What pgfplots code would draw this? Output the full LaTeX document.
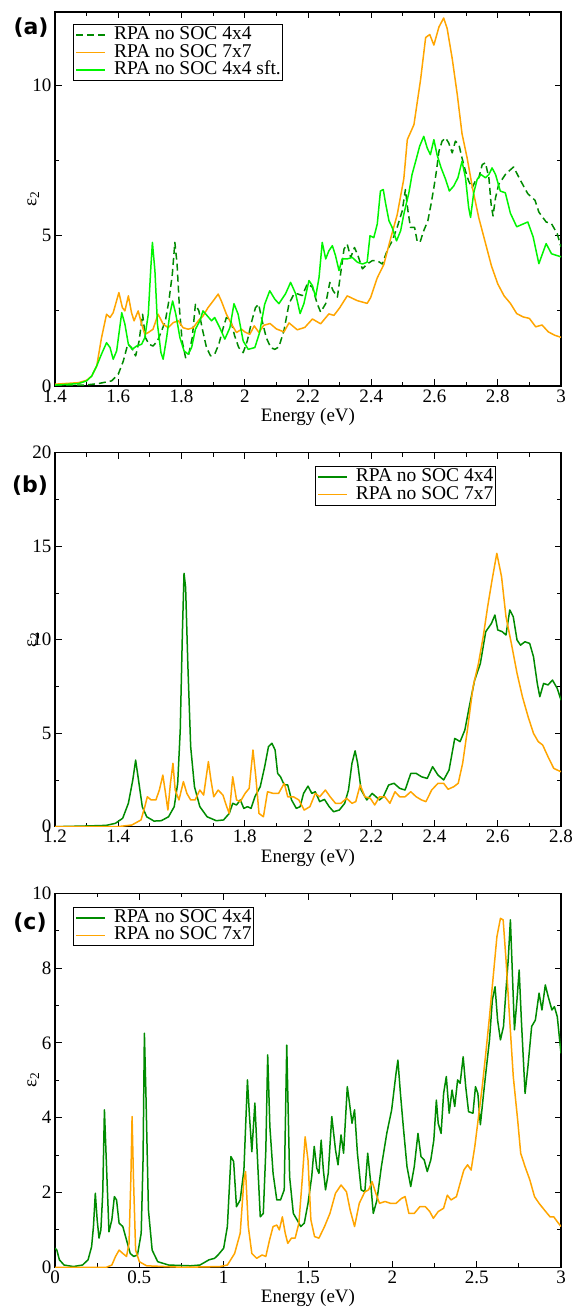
\documentclass[border=0pt]{standalone}
\usepackage{fontspec}
\setmainfont{Liberation Serif}
\newfontfamily\labelfont{DejaVu Sans}
\usepackage{pgfplots}
\pgfplotsset{compat=1.18}
\definecolor{dkgreen}{RGB}{0,139,0}
\definecolor{ltgreen}{RGB}{0,245,0}
\definecolor{orng}{RGB}{255,165,0}
\pgfplotsset{
  myaxis/.style={
    scale only axis, width=506pt, height=374pt,
    axis line style={line width=1.4pt},
    every tick/.style={black, line width=0.8pt},
    major tick length=6.5pt, minor tick length=4pt,
    minor tick num=1,
    /pgf/number format/assume math mode=true,
    tick label style={font=\fontsize{19}{20}\selectfont},
    label style={font=\fontsize{19}{20}\selectfont},
    xlabel={Energy (eV)},
    ylabel={ε\textsubscript{2}},
    xlabel style={at={(axis description cs:0.5,-0.083)}, anchor=center},
    ylabel style={at={(axis description cs:-0.043,0.5)}, anchor=center},
    legend cell align=left,
    legend style={font=\fontsize{19.5}{17}\selectfont, draw=black, line width=1.2pt,
      inner xsep=2pt, inner ysep=2pt, row sep=0.5pt,
      nodes={inner sep=0pt, text height=13pt, text depth=4pt},
      /tikz/every even column/.append style={column sep=0pt},
      /tikz/every odd column/.append style={column sep=8pt}},
    legend image code/.code={\draw[#1, line width=1.5pt] (0pt,0pt) -- (29pt,0pt);},
    every axis plot/.append style={line width=1.5pt, line join=round},
  }
}
\begin{document}
\begin{tikzpicture}
\useasboundingbox (0,0) rectangle (573pt,1309pt);
% ---------------- (a)
\begin{axis}[myaxis, at={(55pt,923pt)}, anchor=south west,
  xmin=1.4, xmax=3, ymin=0, ymax=12.45,
  xtick={1.4,1.6,...,3.01}, ytick={0,5,10},
  legend style={at={(axis description cs:0.0356,0.968)}, anchor=north west}]
\addplot[dkgreen, dash pattern=on 7pt off 4pt] coordinates {
(1.4,0.02)(1.495,0.03)(1.537,0.08)(1.579,0.17)(1.6,0.39)(1.616,0.83)(1.63,1.39)(1.642,1.28)
(1.655,1.0)(1.666,1.5)(1.677,2.39)(1.686,1.61)(1.697,1.39)(1.71,1.33)(1.724,1.5)(1.737,1.83)
(1.749,2.17)(1.76,2.83)(1.771,3.72)(1.779,4.78)(1.786,4.06)(1.794,2.5)(1.802,1.5)(1.813,0.94)
(1.823,1.06)(1.834,1.61)(1.844,2.72)(1.855,2.5)(1.865,1.94)(1.879,1.28)(1.892,1.0)(1.905,1.06)
(1.918,1.39)(1.932,1.94)(1.942,2.28)(1.956,2.17)(1.968,1.67)(1.981,1.28)(1.995,1.11)(2.008,1.5)
(2.021,2.11)(2.034,2.61)(2.044,2.72)(2.055,2.17)(2.068,1.61)(2.082,1.28)(2.095,1.22)(2.108,1.3)
(2.124,1.85)(2.14,2.74)(2.156,3.07)(2.166,3.07)(2.182,3.01)(2.198,3.4)(2.214,3.29)(2.229,2.74)
(2.24,2.46)(2.256,2.74)(2.269,3.45)(2.279,3.18)(2.293,2.96)(2.303,3.73)(2.314,4.56)(2.324,4.72)
(2.335,4.28)(2.347,4.61)(2.358,4.34)(2.372,3.9)(2.387,4.06)(2.403,4.17)(2.419,4.17)(2.435,4.06)
(2.45,4.5)(2.466,4.83)(2.482,5.28)(2.498,5.83)(2.508,6.54)(2.516,5.83)(2.524,5.28)(2.537,5.28)
(2.545,4.83)(2.554,4.78)(2.566,5.17)(2.579,5.5)(2.589,6.05)(2.598,6.6)(2.606,7.15)(2.614,7.81)
(2.624,8.15)(2.635,8.26)(2.645,8.09)(2.656,7.76)(2.666,8.15)(2.677,8.04)(2.687,7.59)(2.698,7.15)
(2.708,6.82)(2.719,6.6)(2.729,6.82)(2.74,6.93)(2.751,7.37)(2.761,7.43)(2.772,6.93)(2.779,6.05)
(2.785,5.66)(2.793,6.27)(2.803,6.71)(2.814,6.88)(2.824,7.04)(2.835,7.15)(2.85,7.29)(2.872,6.84)
(2.895,6.4)(2.918,6.18)(2.93,5.79)(2.953,5.46)(2.97,5.4)(2.988,5.07)(3.0,4.63)};
\addlegendentry{RPA no SOC 4x4}
\addplot[orng] coordinates {
(1.4,0.06)(1.474,0.11)(1.5,0.19)(1.516,0.33)(1.532,0.67)(1.547,1.6)(1.563,2.39)(1.574,2.28)
(1.584,2.44)(1.602,3.11)(1.613,2.61)(1.621,2.5)(1.632,3.0)(1.642,2.44)(1.65,2.17)(1.663,2.5)
(1.674,2.06)(1.684,1.72)(1.695,1.78)(1.71,1.89)(1.726,2.39)(1.742,2.06)(1.758,1.94)(1.774,2.11)
(1.79,2.17)(1.805,1.94)(1.821,1.89)(1.837,1.94)(1.853,2.17)(1.868,2.33)(1.884,2.61)(1.9,2.83)
(1.916,3.06)(1.926,2.83)(1.942,2.39)(1.958,2.06)(1.974,1.78)(1.99,1.89)(2.0,1.8)(2.016,1.72)
(2.03,2.0)(2.045,1.78)(2.06,2.02)(2.08,2.08)(2.1,1.9)(2.124,1.8)(2.14,2.1)(2.166,1.87)(2.19,1.95)
(2.214,2.23)(2.24,2.07)(2.266,2.4)(2.282,2.35)(2.3,2.6)(2.324,3.0)(2.356,2.84)(2.387,2.75)
(2.398,2.94)(2.419,3.6)(2.44,4.05)(2.461,4.9)(2.482,5.7)(2.503,6.9)(2.514,8.2)(2.535,8.7)
(2.556,10.2)(2.572,11.6)(2.585,11.7)(2.598,11.35)(2.614,11.95)(2.629,12.25)(2.64,11.9)
(2.656,10.9)(2.672,9.7)(2.687,8.4)(2.703,7.6)(2.72,6.6)(2.74,5.6)(2.76,4.8)(2.78,4.0)(2.8,3.4)
(2.82,3.0)(2.84,2.75)(2.86,2.41)(2.88,2.3)(2.9,2.25)(2.92,1.97)(2.94,2.03)(2.96,1.8)(2.98,1.69)(3.0,1.62)};
\addlegendentry{RPA no SOC 7x7}
\addplot[ltgreen] coordinates {
(1.4,0.03)(1.474,0.08)(1.5,0.17)(1.516,0.33)(1.532,0.67)(1.547,1.06)(1.563,1.44)(1.574,1.28)
(1.584,0.89)(1.595,1.17)(1.611,2.44)(1.621,2.06)(1.632,1.39)(1.644,1.22)(1.658,1.33)(1.674,1.39)
(1.684,1.61)(1.695,2.39)(1.703,3.94)(1.708,4.78)(1.716,3.83)(1.724,2.06)(1.735,1.11)(1.742,0.89)
(1.753,1.61)(1.763,2.39)(1.772,2.83)(1.782,2.39)(1.795,1.61)(1.808,1.17)(1.821,1.06)(1.832,1.28)
(1.844,1.89)(1.858,2.17)(1.868,2.5)(1.882,2.33)(1.895,2.17)(1.905,2.28)(1.921,1.94)(1.937,1.56)
(1.953,1.94)(1.966,2.74)(1.979,2.39)(1.995,1.5)(2.011,1.22)(2.032,1.28)(2.047,1.78)(2.063,2.72)
(2.079,3.17)(2.095,2.89)(2.108,2.74)(2.129,3.07)(2.145,3.45)(2.161,3.07)(2.175,2.41)(2.187,2.74)
(2.203,3.51)(2.214,3.34)(2.224,2.96)(2.235,3.62)(2.245,4.78)(2.256,4.23)(2.266,4.5)(2.277,4.67)
(2.287,4.34)(2.298,3.84)(2.308,4.23)(2.324,4.23)(2.34,4.28)(2.356,4.12)(2.372,4.06)(2.387,4.12)
(2.396,5.0)(2.408,4.94)(2.419,5.39)(2.429,6.49)(2.438,6.54)(2.445,6.1)(2.456,5.5)(2.466,5.28)
(2.48,4.83)(2.493,5.17)(2.503,5.72)(2.519,6.43)(2.529,7.04)(2.542,7.54)(2.553,7.98)(2.566,8.31)
(2.577,7.92)(2.587,7.7)(2.598,8.2)(2.608,7.7)(2.621,7.26)(2.635,6.88)(2.647,6.49)(2.661,6.66)
(2.674,6.93)(2.687,7.48)(2.698,6.93)(2.708,5.94)(2.714,5.61)(2.724,6.43)(2.735,6.88)(2.747,7.04)
(2.761,6.93)(2.772,7.04)(2.782,7.26)(2.793,7.04)(2.808,6.49)(2.824,6.43)(2.84,5.75)(2.86,5.3)
(2.895,5.46)(2.912,4.96)(2.93,4.07)(2.953,4.74)(2.97,4.4)(3.0,4.3)};
\addlegendentry{RPA no SOC 4x4 sft.}
\end{axis}
% ---------------- (b)
\begin{axis}[myaxis, at={(55pt,482.3pt)}, anchor=south west,
  xmin=1.2, xmax=2.8, ymin=0, ymax=20,
  xtick={1.2,1.4,...,2.81}, ytick={0,5,...,20},
  legend style={at={(axis description cs:0.8715,0.9644)}, anchor=north east}]
\addplot[dkgreen] coordinates {
(1.2,0)(1.304,0.04)(1.362,0.07)(1.391,0.18)(1.414,0.45)(1.432,1.25)(1.446,2.5)(1.455,3.56)
(1.464,2.5)(1.476,1.07)(1.49,0.53)(1.513,0.3)(1.536,0.32)(1.559,0.53)(1.577,1.07)(1.588,2.32)
(1.596,5.17)(1.603,10.5)(1.608,13.55)(1.613,12.8)(1.62,8.7)(1.629,4.28)(1.641,2.14)(1.658,1.07)
(1.681,0.53)(1.71,0.32)(1.733,0.36)(1.751,0.71)(1.762,1.25)(1.774,1.16)(1.786,1.43)(1.797,0.98)
(1.809,1.07)(1.82,0.98)(1.832,1.6)(1.849,2.14)(1.863,3.21)(1.875,4.28)(1.886,4.46)(1.896,4.1)
(1.904,2.85)(1.913,2.67)(1.925,2.23)(1.936,2.23)(1.948,1.43)(1.963,0.98)(1.975,1.07)(1.986,1.78)
(2.0,2.17)(2.012,1.78)(2.023,1.87)(2.037,1.34)(2.052,1.46)(2.067,1.07)(2.081,0.8)(2.099,0.89)
(2.116,1.25)(2.128,1.96)(2.139,3.39)(2.149,4.06)(2.157,3.39)(2.168,1.96)(2.186,1.43)(2.203,1.78)
(2.215,1.6)(2.226,1.43)(2.238,1.6)(2.255,2.23)(2.272,2.32)(2.29,2.05)(2.307,1.96)(2.325,2.85)
(2.342,2.85)(2.359,2.67)(2.377,2.58)(2.394,3.21)(2.411,2.76)(2.429,2.5)(2.446,3.03)(2.464,4.72)
(2.481,4.55)(2.496,5.17)(2.51,6.42)(2.527,7.84)(2.545,8.73)(2.562,10.43)(2.58,10.87)(2.591,11.32)
(2.6,10.52)(2.614,10.43)(2.626,10.25)(2.638,11.59)(2.649,11.23)(2.661,9.98)(2.672,9.71)
(2.686,9.89)(2.701,9.8)(2.713,9.09)(2.725,7.66)(2.733,6.95)(2.745,7.66)(2.759,7.58)(2.773,7.84)
(2.788,7.4)(2.8,6.77)};
\addlegendentry{RPA no SOC 4x4}
\addplot[orng] coordinates {
(1.2,0)(1.397,0)(1.443,0.09)(1.472,0.36)(1.484,1.07)(1.492,1.6)(1.504,1.43)(1.519,1.43)
(1.53,1.96)(1.541,2.76)(1.548,1.96)(1.557,0.89)(1.565,2.32)(1.573,3.39)(1.58,1.96)(1.592,1.43)
(1.606,2.41)(1.617,1.78)(1.629,1.43)(1.643,1.43)(1.658,1.96)(1.67,1.69)(1.685,3.48)(1.693,2.5)
(1.702,1.6)(1.716,1.96)(1.731,1.69)(1.743,1.07)(1.751,0.71)(1.762,2.67)(1.774,1.43)(1.786,1.34)
(1.801,1.78)(1.814,2.05)(1.826,4.1)(1.835,2.67)(1.845,0.71)(1.859,0.53)(1.872,1.87)(1.89,1.78)
(1.907,1.78)(1.925,2.32)(1.936,1.6)(1.954,1.6)(1.971,1.43)(1.988,0.89)(2.006,1.07)(2.023,1.78)
(2.037,1.6)(2.055,1.96)(2.07,1.6)(2.087,1.25)(2.104,1.25)(2.122,1.52)(2.139,1.25)(2.151,1.34)
(2.165,2.23)(2.18,1.6)(2.197,1.52)(2.211,1.16)(2.226,1.6)(2.243,1.6)(2.259,1.25)(2.275,1.87)
(2.29,1.6)(2.307,1.6)(2.325,1.87)(2.342,1.6)(2.359,1.43)(2.373,1.34)(2.391,1.96)(2.411,2.32)
(2.429,2.32)(2.443,2.0)(2.461,2.14)(2.475,2.32)(2.489,3.39)(2.504,5.17)(2.522,7.49)(2.539,8.73)
(2.554,10.16)(2.568,11.76)(2.582,13.19)(2.597,14.62)(2.612,13.37)(2.626,11.23)(2.643,9.8)
(2.661,8.2)(2.678,6.95)(2.696,5.88)(2.713,4.99)(2.728,4.55)(2.742,4.37)(2.759,3.74)(2.777,3.12)
(2.788,3.03)(2.8,2.94)};
\addlegendentry{RPA no SOC 7x7}
\end{axis}
% ---------------- (c)
\begin{axis}[myaxis, at={(55pt,41.7pt)}, anchor=south west,
  xmin=0, xmax=3, ymin=0, ymax=10,
  xtick={0,0.5,...,3.01}, ytick={0,2,...,10},
  legend style={at={(axis description cs:0.0356,0.9642)}, anchor=north west}]
\addplot[dkgreen] coordinates {
(0,0.51)(0.011,0.46)(0.026,0.2)(0.054,0.06)(0.109,0.02)(0.163,0.06)(0.196,0.2)(0.217,0.55)
(0.228,1.09)(0.239,1.98)(0.25,1.27)(0.261,0.78)(0.272,1.0)(0.283,1.98)(0.293,4.21)(0.304,2.87)
(0.32,0.95)(0.337,1.27)(0.352,1.89)(0.365,1.8)(0.38,1.18)(0.402,1.09)(0.424,0.73)(0.446,0.37)
(0.467,0.29)(0.489,0.33)(0.511,0.91)(0.522,2.87)(0.53,6.26)(0.539,4.65)(0.554,1.53)(0.576,0.46)
(0.609,0.15)(0.674,0.06)(0.804,0.04)(0.859,0.06)(0.913,0.2)(0.946,0.24)(0.967,0.33)(1.0,0.51)
(1.022,1.09)(1.043,2.96)(1.059,2.83)(1.076,1.62)(1.098,1.8)(1.12,2.6)(1.141,5.01)(1.152,4.12)
(1.167,3.09)(1.185,4.39)(1.196,3.32)(1.217,1.35)(1.235,1.44)(1.25,3.14)(1.261,5.68)(1.274,3.76)
(1.293,2.51)(1.315,1.8)(1.337,1.8)(1.359,2.07)(1.374,5.94)(1.391,2.42)(1.413,1.44)(1.435,1.27)
(1.457,1.09)(1.478,1.18)(1.5,1.71)(1.522,2.42)(1.537,3.23)(1.552,2.65)(1.565,2.51)(1.578,3.4)
(1.591,2.6)(1.604,2.07)(1.62,2.51)(1.641,4.03)(1.663,3.14)(1.678,2.74)(1.696,3.54)(1.711,3.05)
(1.733,4.83)(1.746,4.39)(1.761,3.85)(1.776,4.21)(1.793,3.05)(1.815,2.07)(1.837,2.02)(1.854,3.05)
(1.87,2.34)(1.887,1.44)(1.909,1.8)(1.935,2.69)(1.967,3.58)(1.996,4.21)(2.022,5.19)(2.033,5.54)
(2.048,4.65)(2.065,3.76)(2.087,2.69)(2.109,2.16)(2.13,2.69)(2.152,3.58)(2.17,2.96)(2.189,2.87)
(2.207,2.56)(2.228,2.87)(2.246,3.4)(2.261,4.47)(2.272,3.85)(2.289,3.58)(2.304,4.65)(2.32,5.1)
(2.337,4.12)(2.354,4.74)(2.37,4.3)(2.387,5.01)(2.402,4.92)(2.42,5.63)(2.435,4.83)(2.452,4.16)
(2.478,4.12)(2.493,4.83)(2.507,4.65)(2.522,3.81)(2.539,4.56)(2.554,5.19)(2.576,6.08)(2.593,7.15)
(2.609,7.5)(2.624,6.61)(2.641,6.08)(2.659,6.44)(2.674,7.42)(2.687,8.22)(2.7,9.29)(2.711,7.95)
(2.724,6.35)(2.739,7.15)(2.752,7.95)(2.765,6.61)(2.787,4.65)(2.804,5.37)(2.826,6.44)(2.848,6.61)
(2.87,7.33)(2.887,6.88)(2.907,7.55)(2.924,7.24)(2.946,6.88)(2.961,6.97)(2.978,6.7)(3.0,5.72)};
\addlegendentry{RPA no SOC 4x4}
\addplot[orng] coordinates {
(0,0)(0.304,0)(0.337,0.06)(0.359,0.29)(0.38,0.46)(0.402,0.37)(0.424,0.29)(0.439,0.64)(0.45,2.42)
(0.457,4.03)(0.465,2.42)(0.478,0.46)(0.5,0.15)(0.543,0.04)(0.761,0)(0.978,0.02)(1.022,0.06)
(1.065,0.37)(1.098,0.91)(1.12,2.34)(1.13,2.56)(1.146,1.09)(1.167,0.37)(1.196,0.24)(1.228,0.33)
(1.25,0.29)(1.272,0.73)(1.293,1.09)(1.315,1.13)(1.33,1.0)(1.348,1.35)(1.365,0.91)(1.38,0.64)
(1.402,0.78)(1.424,0.78)(1.446,1.18)(1.467,2.42)(1.483,3.49)(1.5,2.87)(1.517,1.27)(1.539,0.82)
(1.565,0.78)(1.598,1.09)(1.63,1.44)(1.663,1.98)(1.696,2.2)(1.728,2.02)(1.75,1.53)(1.776,1.09)
(1.804,1.71)(1.837,2.02)(1.859,2.07)(1.88,2.29)(1.902,1.98)(1.924,1.71)(1.957,1.76)(1.989,1.71)
(2.022,1.71)(2.054,1.84)(2.076,1.89)(2.098,1.44)(2.13,1.44)(2.163,1.62)(2.196,1.62)(2.222,1.49)
(2.243,1.31)(2.272,1.49)(2.304,1.58)(2.326,1.93)(2.348,1.8)(2.38,1.89)(2.402,2.25)(2.424,2.6)
(2.446,2.74)(2.467,2.6)(2.489,3.23)(2.511,4.03)(2.533,4.83)(2.554,5.72)(2.576,6.7)(2.598,7.77)
(2.62,8.84)(2.641,9.33)(2.657,9.29)(2.674,8.22)(2.696,6.61)(2.717,5.1)(2.743,3.94)(2.761,3.05)
(2.787,2.69)(2.815,2.34)(2.843,1.89)(2.87,1.71)(2.902,1.53)(2.935,1.35)(2.957,1.35)(2.978,1.22)(3.0,1.09)};
\addlegendentry{RPA no SOC 7x7}
\end{axis}
\node[font=\labelfont\bfseries\fontsize{22}{24}\selectfont] at (31pt,1281pt) {(a)};
\node[font=\labelfont\bfseries\fontsize{22}{24}\selectfont] at (30pt,823pt) {(b)};
\node[font=\labelfont\bfseries\fontsize{22}{24}\selectfont] at (30pt,386.5pt) {(c)};
\end{tikzpicture}
\end{document}
